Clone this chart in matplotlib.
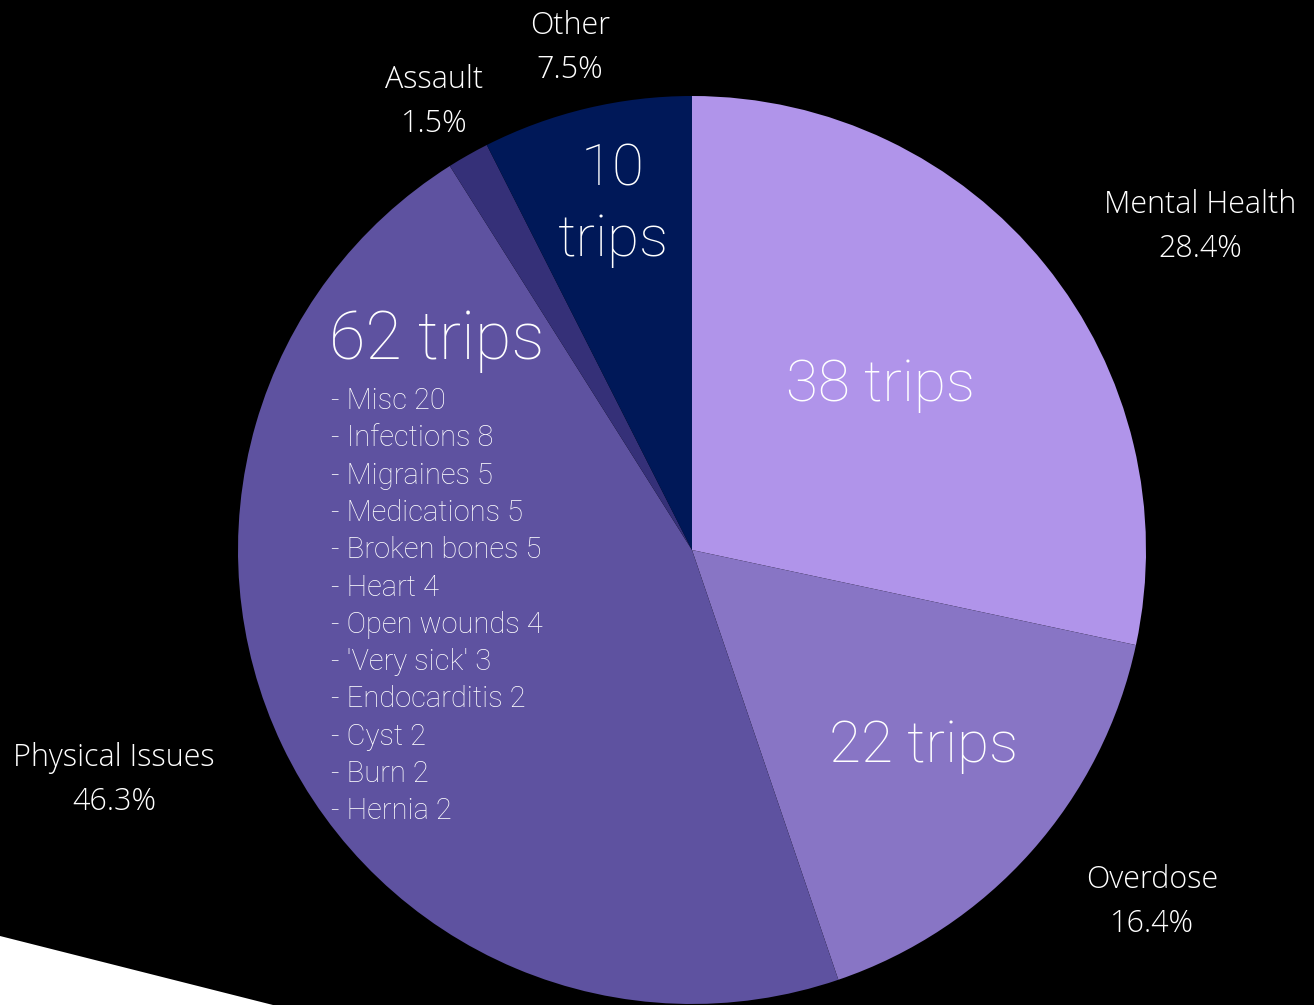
import matplotlib.pyplot as plt
from matplotlib.patches import Polygon

# trips by category, clockwise from 12 o'clock
categories = ["Mental Health", "Overdose", "Physical Issues", "Assault", "Other"]
trips = [38, 22, 62, 2, 10]
colors = ["#b094ea", "#8875c5", "#5e52a0", "#353078", "#001858"]

physical_breakdown = ["Misc 20", "Infections 8", "Migraines 5", "Medications 5",
                      "Broken bones 5", "Heart 4", "Open wounds 4", "'Very sick' 3",
                      "Endocarditis 2", "Cyst 2", "Burn 2", "Hernia 2"]

W, H = 1314, 1005
fig = plt.figure(figsize=(W / 100, H / 100), dpi=100, facecolor="black")
ax = fig.add_axes([0, 0, 1, 1])

total = sum(trips)
cx, cy, r = 692, H - 550, 454
ax.pie(trips, colors=colors, startangle=90, counterclock=False,
       center=(cx, cy), radius=r, frame=True,
       wedgeprops=dict(linewidth=0))
ax.set_xlim(0, W)
ax.set_ylim(0, H)
ax.set_aspect("equal")
ax.axis("off")

# white strip at bottom-left corner
ax.add_patch(Polygon([(0, H - 936), (273, 0), (0, 0)], closed=True,
                     facecolor="white", edgecolor="none", zorder=5))

outer_font = "Open Sans"
inner_font = "Roboto"

# outer labels (name + percentage)
outer_pos = {
    "Mental Health": (1200, 227),
    "Overdose": (1152, 902),
    "Physical Issues": (114, 780),
    "Assault": (434, 102),
    "Other": (570, 48),
}
for name, n in zip(categories, trips):
    x, y = outer_pos[name]
    ax.text(x, H - y, f"{name}\n{100 * n / total:.1f}%", color="white",
            fontsize=22, family=outer_font, ha="center", va="center",
            linespacing=1.48, weight="light")

# counts inside wedges
ax.text(881, H - 385, f"{trips[0]} trips", color="white", fontsize=42,
        family=inner_font, ha="center", va="center", weight="light")
ax.text(924, H - 747, f"{trips[1]} trips", color="white", fontsize=42,
        family=inner_font, ha="center", va="center", weight="light")
ax.text(437, H - 341, f"{trips[2]} trips", color="white", fontsize=48,
        family=inner_font, ha="center", va="center", weight="light")
ax.text(613, H - 205, f"{trips[4]}\ntrips", color="white", fontsize=42,
        family=inner_font, ha="center", va="center", linespacing=1.36,
        weight="light")

for i, item in enumerate(physical_breakdown):
    ax.text(331, H - (401 + i * 37.3), f"- {item}", color="white",
            fontsize=21, family=inner_font, ha="left", va="center",
            weight="light")

fig.savefig("out.png", dpi=100, facecolor="black")
